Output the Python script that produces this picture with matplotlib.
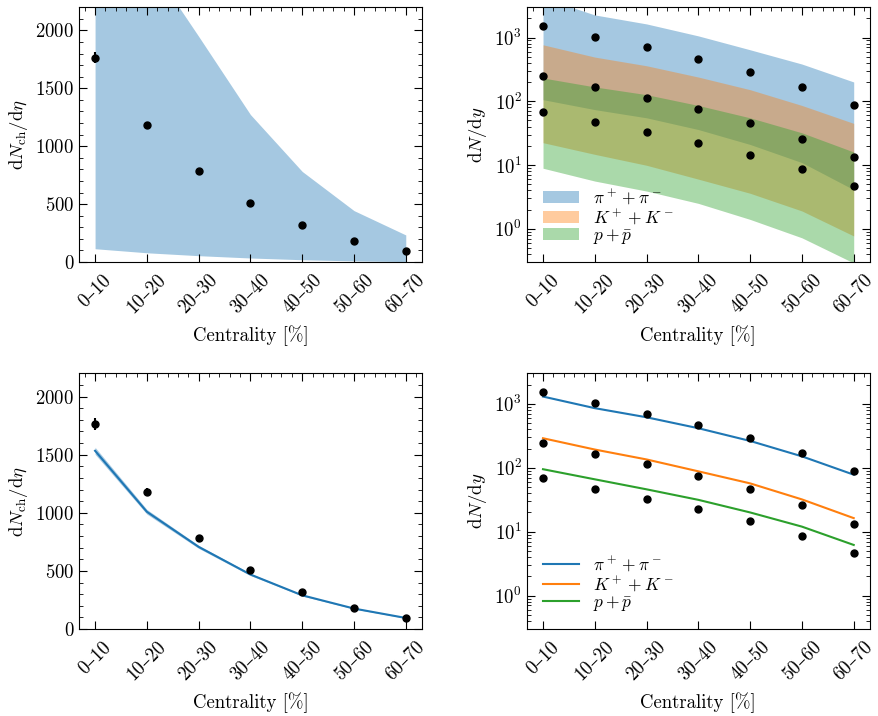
import numpy as np
import matplotlib
matplotlib.use("Agg")
import matplotlib.pyplot as plt
from matplotlib.ticker import AutoMinorLocator, FixedLocator

plt.rcParams['font.family'] = ['cmr10', 'DejaVu Serif']
plt.rcParams['mathtext.fontset'] = 'cm'
plt.rcParams['axes.formatter.use_mathtext'] = True
plt.rcParams['axes.unicode_minus'] = False
plt.rcParams['font.size'] = 13.5

# centrality classes
cent = ['0–10', '10–20', '20–30', '30–40', '40–50', '50–60', '60–70']

# charged multiplicity data
nch_data = [1765, 1180, 785, 512, 318, 183, 96]
nch_err = [50, 30, 20, 14, 10, 7, 4]
# prior band
nch_prior_lo = [115, 80, 55, 35, 20, 10, 4]
nch_prior_hi = [4200, 2611, 1948, 1273, 782, 444, 234]
# posterior
nch_post = [1534, 1009, 707, 469, 290, 176, 95]
nch_post_w = [30, 20, 13, 9, 6, 4, 3]

# identified particle data
pion_data = [1540, 1030, 705, 465, 290, 170, 88]
kaon_data = [247, 167, 113, 75, 46, 26, 13.3]
proton_data = [68, 47, 33, 22.5, 14.5, 8.7, 4.7]

# prior bands
pion_lo = [106, 74, 55, 36, 21, 10.9, 4.1]
pion_hi = [4200, 2265, 1637, 1062, 643, 384, 201]
kaon_lo = [22.4, 14.7, 9.9, 6.0, 3.6, 1.9, 0.77]
kaon_hi = [770, 494, 361, 240, 152, 86, 45]
proton_lo = [8.9, 5.6, 3.9, 2.5, 1.4, 0.72, 0.29]
proton_hi = [232, 168, 127, 86, 55, 32, 16]

# posterior
pion_post = [1302, 857, 617, 416, 263, 151, 78]
kaon_post = [290, 193, 135, 88, 57, 32, 16.3]
proton_post = [95, 66, 46, 31.5, 20, 12, 6.2]

labels = [r'$\pi^+ + \pi^-$', r'$K^+ + K^-$', r'$p + \bar{p}$']

x = np.arange(len(cent))

fig = plt.figure(figsize=(8.79, 7.16), dpi=100)
ax1 = fig.add_axes([0.0899, 0.634, 0.390, 0.356])
ax2 = fig.add_axes([0.5995, 0.634, 0.390, 0.356])
ax3 = fig.add_axes([0.0899, 0.1215, 0.390, 0.357])
ax4 = fig.add_axes([0.5995, 0.1215, 0.390, 0.357])


def style(ax, log=False):
    ax.set_xlim(-0.31, 6.31)
    ax.xaxis.set_major_locator(FixedLocator(x))
    ax.set_xticklabels(cent, rotation=45, ha='center')
    ax.xaxis.set_minor_locator(AutoMinorLocator(5))
    if not log:
        ax.yaxis.set_minor_locator(AutoMinorLocator(5))
    ax.tick_params(which='both', direction='in', top=True, right=True)
    ax.tick_params(which='major', length=6, width=0.8)
    ax.tick_params(which='minor', length=3, width=0.6)
    ax.tick_params(axis='x', which='major', pad=6.5)
    ax.tick_params(axis='x', which='minor', bottom=False)
    ax.set_xlabel('Centrality [%]', labelpad=6)


def legend(ax):
    ax.legend(loc='lower left', frameon=False, fontsize=12.5, handlelength=2.1,
              handletextpad=0.8, borderaxespad=0.3, labelspacing=0.05,
              borderpad=0.6)


# top left: charged multiplicity prior
ax1.fill_between(x, nch_prior_lo, nch_prior_hi, color='C0', alpha=0.4, lw=0)
ax1.errorbar(x, nch_data, yerr=nch_err, fmt='o', color='k', ms=5)
ax1.set_ylim(0, 2200)
ax1.set_ylabel(r'$\mathrm{d}N_\mathrm{ch}/\mathrm{d}\eta$')
style(ax1)

# top right: identified prior
for lo, hi, c, lab in zip([pion_lo, kaon_lo, proton_lo], [pion_hi, kaon_hi, proton_hi],
                          ['C0', 'C1', 'C2'], labels):
    ax2.fill_between(x, lo, hi, color=c, alpha=0.4, lw=0, label=lab)
for d in [pion_data, kaon_data, proton_data]:
    ax2.plot(x, d, 'o', color='k', ms=5)
ax2.set_yscale('log')
ax2.set_ylim(0.3, 3000)
ax2.set_ylabel(r'$\mathrm{d}N/\mathrm{d}y$')
legend(ax2)
style(ax2, log=True)

# bottom left: charged multiplicity posterior
lo = np.array(nch_post) - np.array(nch_post_w)
hi = np.array(nch_post) + np.array(nch_post_w)
ax3.fill_between(x, lo, hi, color='C0', alpha=0.4, lw=0)
ax3.plot(x, nch_post, color='C0', lw=1.5)
ax3.errorbar(x, nch_data, yerr=nch_err, fmt='o', color='k', ms=5)
ax3.set_ylim(0, 2200)
ax3.set_ylabel(r'$\mathrm{d}N_\mathrm{ch}/\mathrm{d}\eta$')
style(ax3)

# bottom right: identified posterior
for p, c, lab in zip([pion_post, kaon_post, proton_post], ['C0', 'C1', 'C2'], labels):
    ax4.plot(x, p, color=c, lw=1.5, label=lab)
for d in [pion_data, kaon_data, proton_data]:
    ax4.plot(x, d, 'o', color='k', ms=5)
ax4.set_yscale('log')
ax4.set_ylim(0.3, 3000)
ax4.set_ylabel(r'$\mathrm{d}N/\mathrm{d}y$')
legend(ax4)
style(ax4, log=True)

fig.savefig('out.png', dpi=100)
